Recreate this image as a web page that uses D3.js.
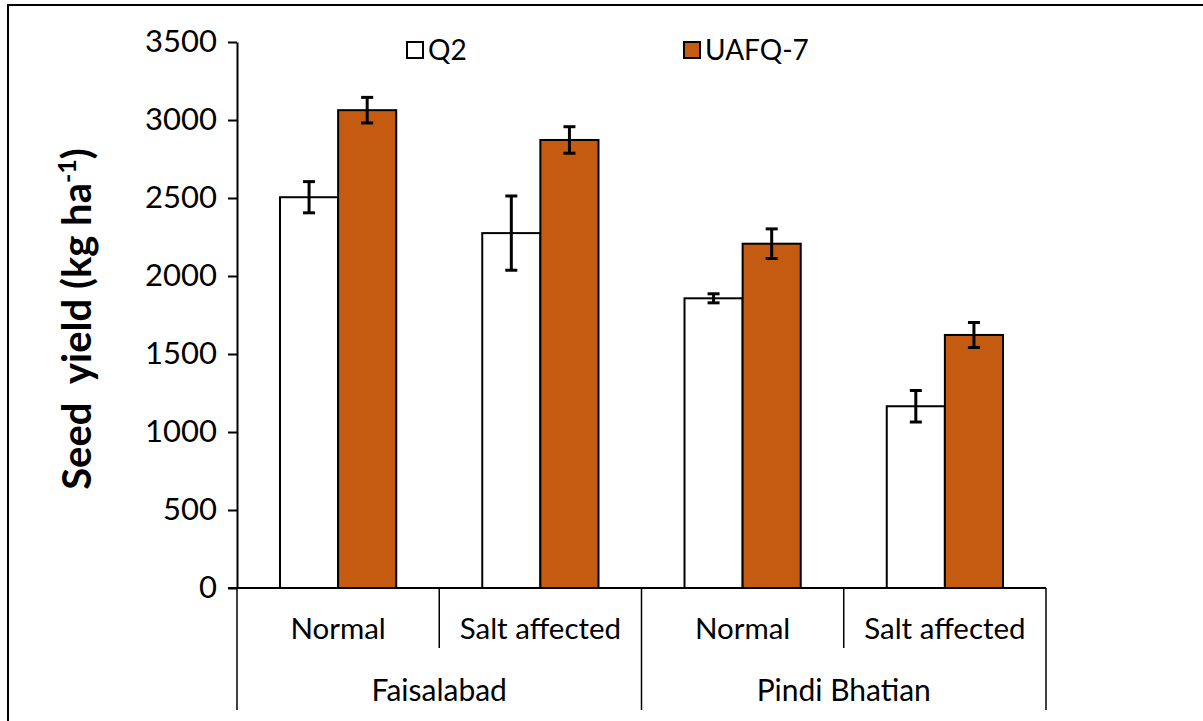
<!DOCTYPE html>
<html>
<head>
<meta charset="utf-8">
<script src="https://cdn.jsdelivr.net/npm/d3@7"></script>
<style>
  html, body { margin: 0; padding: 0; background: #fff; }
  svg { display: block; }
  text { font-family: Lato, "Open Sans", sans-serif; fill: #000; white-space: pre; }
</style>
</head>
<body>
<svg id="chart" width="1203" height="721"></svg>
<script>
// Seed yield of two quinoa genotypes at two locations and two soil conditions
const locations = ["Faisalabad", "Pindi Bhatian"];
const soils = ["Normal", "Salt affected"];
const series = ["Q2", "UAFQ-7"];
const seriesColors = ["#ffffff", "#c55a11"];

// values in kg/ha, order: Faisalabad-Normal, Faisalabad-Salt, Pindi-Normal, Pindi-Salt
const q2Yield      = [2505, 2275, 1857, 1165];
const q2Error      = [100, 238, 29, 101];
const uafq7Yield   = [3063, 2872, 2207, 1622];
const uafq7Error   = [82, 85, 95, 80];
const yTicks = [0, 500, 1000, 1500, 2000, 2500, 3000, 3500];

const groups = [];
locations.forEach(loc => soils.forEach(s => groups.push({ loc, soil: s, key: loc + "|" + s })));
const rows = groups.map((g, i) => ({
  ...g,
  bars: [
    { series: series[0], value: q2Yield[i], err: q2Error[i], color: seriesColors[0] },
    { series: series[1], value: uafq7Yield[i], err: uafq7Error[i], color: seriesColors[1] }
  ]
}));

const svg = d3.select("#chart");
const plotLeft = 237, plotRight = 1046, plotTop = 42, plotBottom = 588;

// outer frame (top and left edges)
svg.append("path")
  .attr("d", "M8,721V5H1203")
  .attr("fill", "none").attr("stroke", "#000").attr("stroke-width", 2);

const x = d3.scaleBand().domain(groups.map(g => g.key)).range([plotLeft, plotRight]);
const xs = d3.scaleBand().domain(series).range([0, x.bandwidth()]).paddingInner(0).paddingOuter(0.74);
const y = d3.scaleLinear().domain([0, 3500]).range([plotBottom, plotTop]);

// y axis
const yAxis = svg.append("g")
  .attr("transform", `translate(${plotLeft},0)`)
  .call(d3.axisLeft(y).tickValues(yTicks).tickFormat(d3.format("d"))
    .tickSize(9).tickPadding(11).tickSizeOuter(0));
yAxis.select(".domain").attr("stroke", "#000").attr("stroke-width", 2);
yAxis.selectAll(".tick line").attr("stroke", "#000").attr("stroke-width", 2);
yAxis.selectAll(".tick text").style("font-size", "31px").style("font-family", "Lato, sans-serif").attr("fill", "#000");

// bars
const grp = svg.selectAll("g.grp").data(rows).join("g")
  .attr("class", "grp")
  .attr("transform", d => `translate(${x(d.key)},0)`);

grp.selectAll("rect").data(d => d.bars).join("rect")
  .attr("x", d => xs(d.series))
  .attr("width", xs.bandwidth())
  .attr("y", d => y(d.value))
  .attr("height", d => y(0) - y(d.value))
  .attr("fill", d => d.color)
  .attr("stroke", "#000").attr("stroke-width", 2);

// error bars
const eb = grp.selectAll("g.err").data(d => d.bars).join("g").attr("class", "err")
  .attr("transform", d => `translate(${xs(d.series) + xs.bandwidth() / 2},0)`);
eb.append("line").attr("x1", 0).attr("x2", 0)
  .attr("y1", d => y(d.value + d.err)).attr("y2", d => y(d.value - d.err))
  .attr("stroke", "#000").attr("stroke-width", 3);
eb.selectAll("line.cap").data(d => [d.value + d.err, d.value - d.err]).join("line")
  .attr("class", "cap")
  .attr("x1", -6).attr("x2", 6)
  .attr("y1", v => y(v)).attr("y2", v => y(v))
  .attr("stroke", "#000").attr("stroke-width", 3);

// x baseline
svg.append("line").attr("x1", plotLeft - 9).attr("x2", plotRight)
  .attr("y1", plotBottom).attr("y2", plotBottom)
  .attr("stroke", "#000").attr("stroke-width", 2);

// soil-level dividers and labels
const soilBoundaries = d3.range(groups.length + 1).map(i => plotLeft + i * x.step());
svg.selectAll("line.div1").data(soilBoundaries).join("line")
  .attr("class", "div1")
  .attr("x1", d => d).attr("x2", d => d)
  .attr("y1", plotBottom).attr("y2", (d, i) => (i % soils.length === 0) ? 710 : 648)
  .attr("stroke", "#000").attr("stroke-width", 1.5);

svg.selectAll("text.soil").data(groups).join("text")
  .attr("class", "soil")
  .attr("x", d => x(d.key) + x.bandwidth() / 2)
  .attr("y", 639)
  .attr("text-anchor", "middle")
  .style("font-size", "29.5px")
  .text(d => d.soil);

// location labels
const xl = d3.scaleBand().domain(locations).range([plotLeft, plotRight]);
svg.selectAll("text.loc").data(locations).join("text")
  .attr("class", "loc")
  .attr("x", d => xl(d) + xl.bandwidth() / 2)
  .attr("y", 701)
  .attr("text-anchor", "middle")
  .style("font-size", "30px")
  .text(d => d);

// y title
const yt = svg.append("text")
  .attr("transform", "translate(91,319) rotate(-90)")
  .attr("text-anchor", "middle")
  .style("font-size", "40px")
  .style("font-weight", "bold");
yt.append("tspan").text("Seed  yield (kg ha");
yt.append("tspan").attr("dy", -15).style("font-size", "25px").text("-1");
yt.append("tspan").attr("dy", 15).text(")");

// legend
const legendX = [407, 684];
const lg = svg.selectAll("g.legend").data(series).join("g")
  .attr("class", "legend")
  .attr("transform", (d, i) => `translate(${legendX[i]},42)`);
lg.append("rect").attr("x", 0).attr("y", 0).attr("width", 16).attr("height", 16)
  .attr("fill", (d, i) => seriesColors[i]).attr("stroke", "#000").attr("stroke-width", 2);
lg.append("text").attr("x", 21).attr("y", 18)
  .style("font-size", "28px")
  .text(d => d);
</script>
</body>
</html>
